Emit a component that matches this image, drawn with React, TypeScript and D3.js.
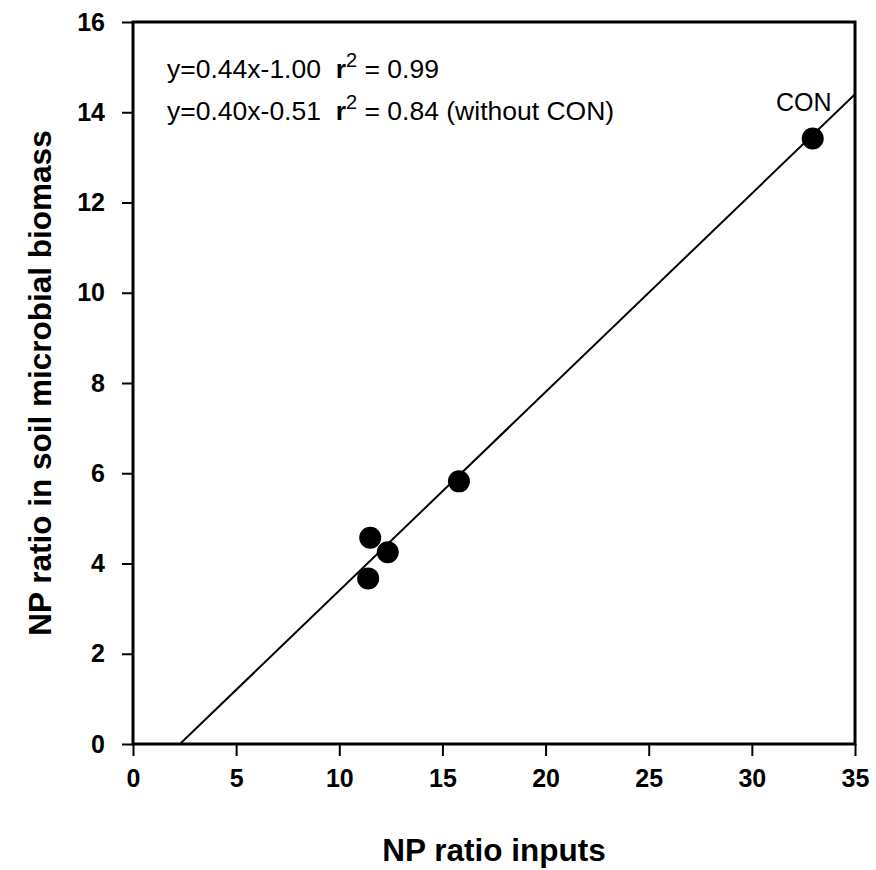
import React, { useEffect, useRef } from "react";
import * as d3 from "d3";

const inputsNP = [11.4, 11.5, 12.35, 15.8, 32.95];
const microbialNP = [3.67, 4.57, 4.25, 5.82, 13.42];
const pointLabels = ["", "", "", "", "CON"];
const xTicks = [0, 5, 10, 15, 20, 25, 30, 35];
const yTicks = [0, 2, 4, 6, 8, 10, 12, 14, 16];
const fitSlope = 0.44;
const fitIntercept = -1.0;

const App = () => {
  const ref = useRef<SVGSVGElement>(null);

  useEffect(() => {
    const svg = d3.select(ref.current);
    svg.selectAll("*").remove();

    const width = 876;
    const height = 870;
    const margin = { top: 22, right: 21, bottom: 126, left: 133 };
    const font = "Liberation Sans, Arial, sans-serif";

    const x = d3.scaleLinear().domain([0, 35]).range([margin.left, width - margin.right]);
    const y = d3.scaleLinear().domain([0, 16]).range([height - margin.bottom, margin.top]);

    // frame
    svg
      .append("rect")
      .attr("x", x(0))
      .attr("y", y(16))
      .attr("width", x(35) - x(0))
      .attr("height", y(0) - y(16))
      .attr("fill", "none")
      .attr("stroke", "black")
      .attr("stroke-width", 3);

    // x axis
    const xAxis = svg
      .append("g")
      .attr("transform", `translate(0,${y(0)})`)
      .call(d3.axisBottom(x).tickValues(xTicks).tickSize(12).tickPadding(13));
    xAxis.select(".domain").remove();
    xAxis.selectAll("line").attr("stroke-width", 2);
    xAxis
      .selectAll("text")
      .style("font-family", font)
      .style("font-size", "25px")
      .style("font-weight", "bold");

    // y axis
    const yAxis = svg
      .append("g")
      .attr("transform", `translate(${x(0)},0)`)
      .call(d3.axisLeft(y).tickValues(yTicks).tickSize(11).tickPadding(17));
    yAxis.select(".domain").remove();
    yAxis.selectAll("line").attr("stroke-width", 2);
    yAxis
      .selectAll("text")
      .style("font-family", font)
      .style("font-size", "25px")
      .style("font-weight", "bold");

    // regression line clipped to the plot
    const x0 = -fitIntercept / fitSlope;
    svg
      .append("line")
      .attr("x1", x(x0))
      .attr("y1", y(0))
      .attr("x2", x(35))
      .attr("y2", y(fitSlope * 35 + fitIntercept))
      .attr("stroke", "black")
      .attr("stroke-width", 2);

    // points
    svg
      .selectAll("circle.pt")
      .data(inputsNP)
      .enter()
      .append("circle")
      .attr("class", "pt")
      .attr("cx", (d) => x(d))
      .attr("cy", (d, i) => y(microbialNP[i]))
      .attr("r", 11)
      .attr("fill", "black");

    svg
      .selectAll("text.lbl")
      .data(pointLabels)
      .enter()
      .append("text")
      .attr("class", "lbl")
      .attr("x", (d, i) => x(inputsNP[i]) - 9)
      .attr("y", (d, i) => y(microbialNP[i]) - 27)
      .attr("text-anchor", "middle")
      .style("font-family", font)
      .style("font-size", "25px")
      .text((d) => d);

    // equations
    const eq = [
      { eq: "y=0.44x-1.00", r: "= 0.99", extra: "" },
      { eq: "y=0.40x-0.51", r: "= 0.84", extra: " (without CON)" },
    ];
    eq.forEach((e, i) => {
      const t = svg
        .append("text")
        .attr("x", 167)
        .attr("y", 78 + i * 42)
        .style("font-family", font)
        .style("font-size", "26.5px")
        .attr("xml:space", "preserve");
      t.append("tspan").text(e.eq + "  ");
      t.append("tspan").style("font-weight", "bold").text("r");
      t.append("tspan").attr("dy", -11).style("font-size", "20px").text("2");
      t.append("tspan").attr("dy", 11).text(" " + e.r + e.extra);
    });

    // axis titles
    svg
      .append("text")
      .attr("x", x(17.5))
      .attr("y", 861)
      .attr("text-anchor", "middle")
      .style("font-family", font)
      .style("font-size", "31.5px")
      .style("font-weight", "bold")
      .text("NP ratio inputs");

    svg
      .append("text")
      .attr("transform", `translate(51,${y(8)}) rotate(-90)`)
      .attr("text-anchor", "middle")
      .style("font-family", font)
      .style("font-size", "31.5px")
      .style("font-weight", "bold")
      .text("NP ratio in soil microbial biomass");
  }, []);

  return (
    <svg
      ref={ref}
      width={876}
      height={870}
      style={{ position: "absolute", left: 0, top: 0, background: "white" }}
    ></svg>
  );
};

export default App;
